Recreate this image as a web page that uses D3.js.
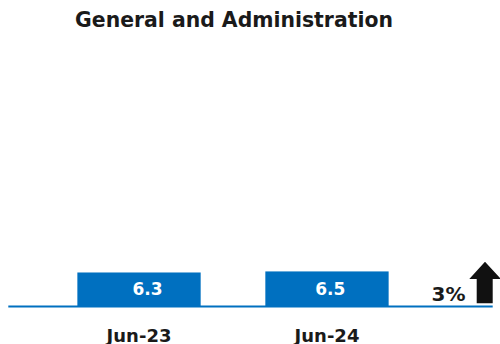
<!DOCTYPE html>
<html>
<head>
<meta charset="utf-8">
<script src="https://cdn.jsdelivr.net/npm/d3@7"></script>
<style>
  html, body { margin: 0; padding: 0; background: #fff; }
  svg { display: block; }
  text { font-family: "DejaVu Sans", "Noto Sans", sans-serif; font-weight: bold; }
</style>
</head>
<body>
<svg id="chart" width="500" height="344"></svg>
<script>
// Expense line: General and Administration
const title = "General and Administration";
const periods = ["Jun-23", "Jun-24"];
const values = [6.3, 6.5];
const changeLabel = "3%";

const W = 500, H = 344;
const baseY = 306;
const barColor = "#0070C0";
const inkColor = "#1a1a1a";

const svg = d3.select("#chart");

const x = d3.scaleBand()
  .domain(periods)
  .range([12.7, 453.3])
  .padding(0.344);

const y = d3.scaleLinear()
  .domain([0, 50])
  .range([baseY, 40]);

// title
svg.append("text")
  .attr("x", 234)
  .attr("y", 26.8)
  .attr("text-anchor", "middle")
  .attr("font-size", 20.4)
  .attr("fill", inkColor)
  .text(title);

// bars
svg.selectAll("rect.bar")
  .data(values)
  .join("rect")
  .attr("class", "bar")
  .attr("x", (d, i) => x(periods[i]))
  .attr("width", x.bandwidth())
  .attr("y", d => y(d))
  .attr("height", d => y(0) - y(d))
  .attr("fill", barColor);

// value labels inside the bars (slightly right of centre)
const labelNudge = [8.5, 3.3];
svg.selectAll("text.val")
  .data(values)
  .join("text")
  .attr("class", "val")
  .attr("x", (d, i) => x(periods[i]) + x.bandwidth() / 2 + labelNudge[i])
  .attr("y", 294.7)
  .attr("text-anchor", "middle")
  .attr("font-size", 17)
  .attr("fill", "#fff")
  .text(d => d3.format(".1f")(d));

// baseline
svg.append("line")
  .attr("x1", 8.3)
  .attr("x2", 492.7)
  .attr("y1", baseY + 0.5)
  .attr("y2", baseY + 0.5)
  .attr("stroke", barColor)
  .attr("stroke-width", 2);

// category axis (labels only)
const xAxis = d3.axisBottom(x).tickSize(0).tickPadding(0);
const gx = svg.append("g")
  .attr("transform", `translate(0, ${baseY})`)
  .call(xAxis);
gx.select(".domain").remove();
gx.selectAll("text")
  .attr("dy", null)
  .attr("y", 341.5 - baseY)
  .attr("font-size", 18)
  .attr("font-family", null)
  .attr("fill", inkColor);

// change indicator
svg.append("text")
  .attr("x", 448.5)
  .attr("y", 301)
  .attr("text-anchor", "middle")
  .attr("font-size", 20)
  .attr("fill", inkColor)
  .text(changeLabel);

const arrow = d3.path();
arrow.moveTo(485, 261.7);
arrow.lineTo(501, 279);
arrow.lineTo(492.7, 279);
arrow.lineTo(492.7, 303.3);
arrow.lineTo(476.7, 303.3);
arrow.lineTo(476.7, 279);
arrow.lineTo(469.3, 279);
arrow.closePath();
svg.append("path")
  .attr("d", arrow.toString())
  .attr("fill", "#111");
</script>
</body>
</html>
